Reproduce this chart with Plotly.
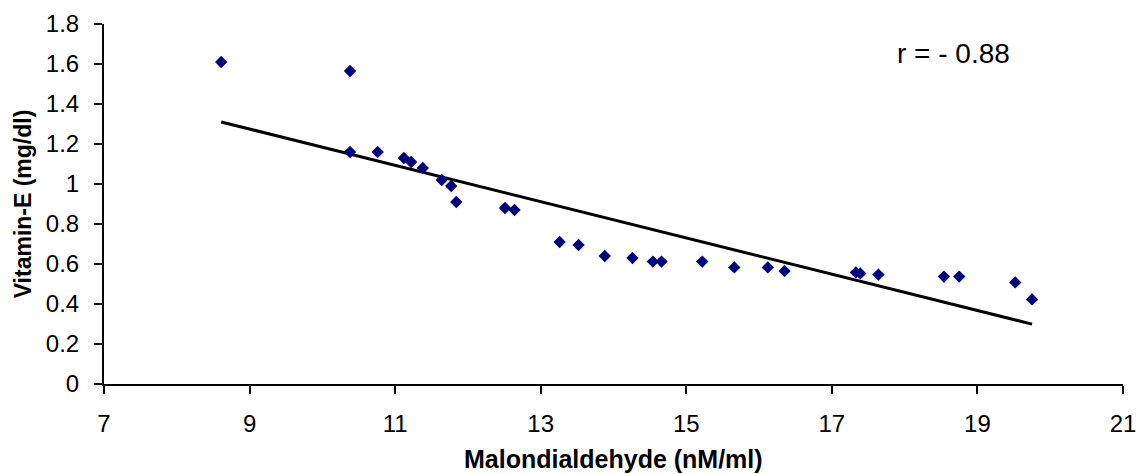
import numpy as np
import plotly.graph_objects as go

# Data
mda = [8.61, 10.38, 10.38, 10.76, 11.12, 11.22, 11.38, 11.64, 11.77, 11.84,
       12.51, 12.64, 13.26, 13.52, 13.88, 14.26, 14.54, 14.66, 15.22, 15.66,
       16.12, 16.35, 17.33, 17.39, 17.64, 18.54, 18.75, 19.52, 19.75]
vit_e = [1.61, 1.565, 1.16, 1.16, 1.13, 1.11, 1.08, 1.02, 0.99, 0.91,
         0.88, 0.87, 0.71, 0.695, 0.64, 0.63, 0.612, 0.612, 0.612, 0.583,
         0.583, 0.565, 0.558, 0.553, 0.547, 0.537, 0.537, 0.508, 0.423]

x_ticks = [7, 9, 11, 13, 15, 17, 19, 21]
y_ticks = [0, 0.2, 0.4, 0.6, 0.8, 1, 1.2, 1.4, 1.6, 1.8]
y_tick_text = ["0", "0.2", "0.4", "0.6", "0.8", "1", "1.2", "1.4", "1.6", "1.8"]
x_title = "Malondialdehyde (nM/ml)"
y_title = "Vitamin-E (mg/dl)"
r_label = "r = - 0.88"

# Linear trendline (least squares) over data range
slope, intercept = np.polyfit(mda, vit_e, 1)
trend_x = [min(mda), max(mda)]
trend_y = [slope * v + intercept for v in trend_x]

fig = go.Figure()
fig.add_trace(go.Scatter(
    x=trend_x, y=trend_y, mode="lines",
    line=dict(color="black", width=3), hoverinfo="skip", showlegend=False))
fig.add_trace(go.Scatter(
    x=mda, y=vit_e, mode="markers",
    marker=dict(symbol="diamond", size=9.5, color="#000080",
                line=dict(width=0)),
    showlegend=False))

font_family = "Arial, Liberation Sans, sans-serif"
ML, MR, MT, MB = 104, 13, 24, 90

fig.update_layout(
    width=1136, height=474,
    margin=dict(l=ML, r=MR, t=MT, b=MB),
    paper_bgcolor="white", plot_bgcolor="white",
    font=dict(family=font_family, color="black"),
    xaxis=dict(
        range=[7, 21], tickvals=x_ticks, ticktext=[str(v) for v in x_ticks],
        showgrid=False, zeroline=False, showline=True, linecolor="black",
        linewidth=2, ticks="outside", ticklen=8, tickwidth=2, tickcolor="black",
        tickfont=dict(size=24), ticklabelstandoff=9, automargin=False,
        ticklabeloverflow="allow",
    ),
    yaxis=dict(
        range=[0, 1.8], tickvals=y_ticks, ticktext=y_tick_text,
        showgrid=False, zeroline=False, showline=True, linecolor="black",
        linewidth=2, ticks="outside", ticklen=8, tickwidth=2, tickcolor="black",
        tickfont=dict(size=24), ticklabelstandoff=10, automargin=False,
        ticklabeloverflow="allow",
        title=dict(text="<b>" + y_title + "</b>",
                   font=dict(size=23), standoff=8),
    ),
)
pw = 1136 - ML - MR
ph = 474 - MT - MB
# x-axis title near the bottom edge, kept fully visible
fig.add_annotation(
    text="<b>" + x_title + "</b>", x=0.5, y=(474 - MB - 459) / ph,
    xref="paper", yref="paper", xanchor="center", yanchor="middle",
    showarrow=False, font=dict(size=25, family=font_family))
fig.add_annotation(
    text=r_label, x=(953 - ML) / pw, y=(474 - MB - 53) / ph,
    xref="paper", yref="paper", xanchor="center", yanchor="middle",
    showarrow=False, font=dict(size=28, family=font_family))

fig.write_html("out.html")
